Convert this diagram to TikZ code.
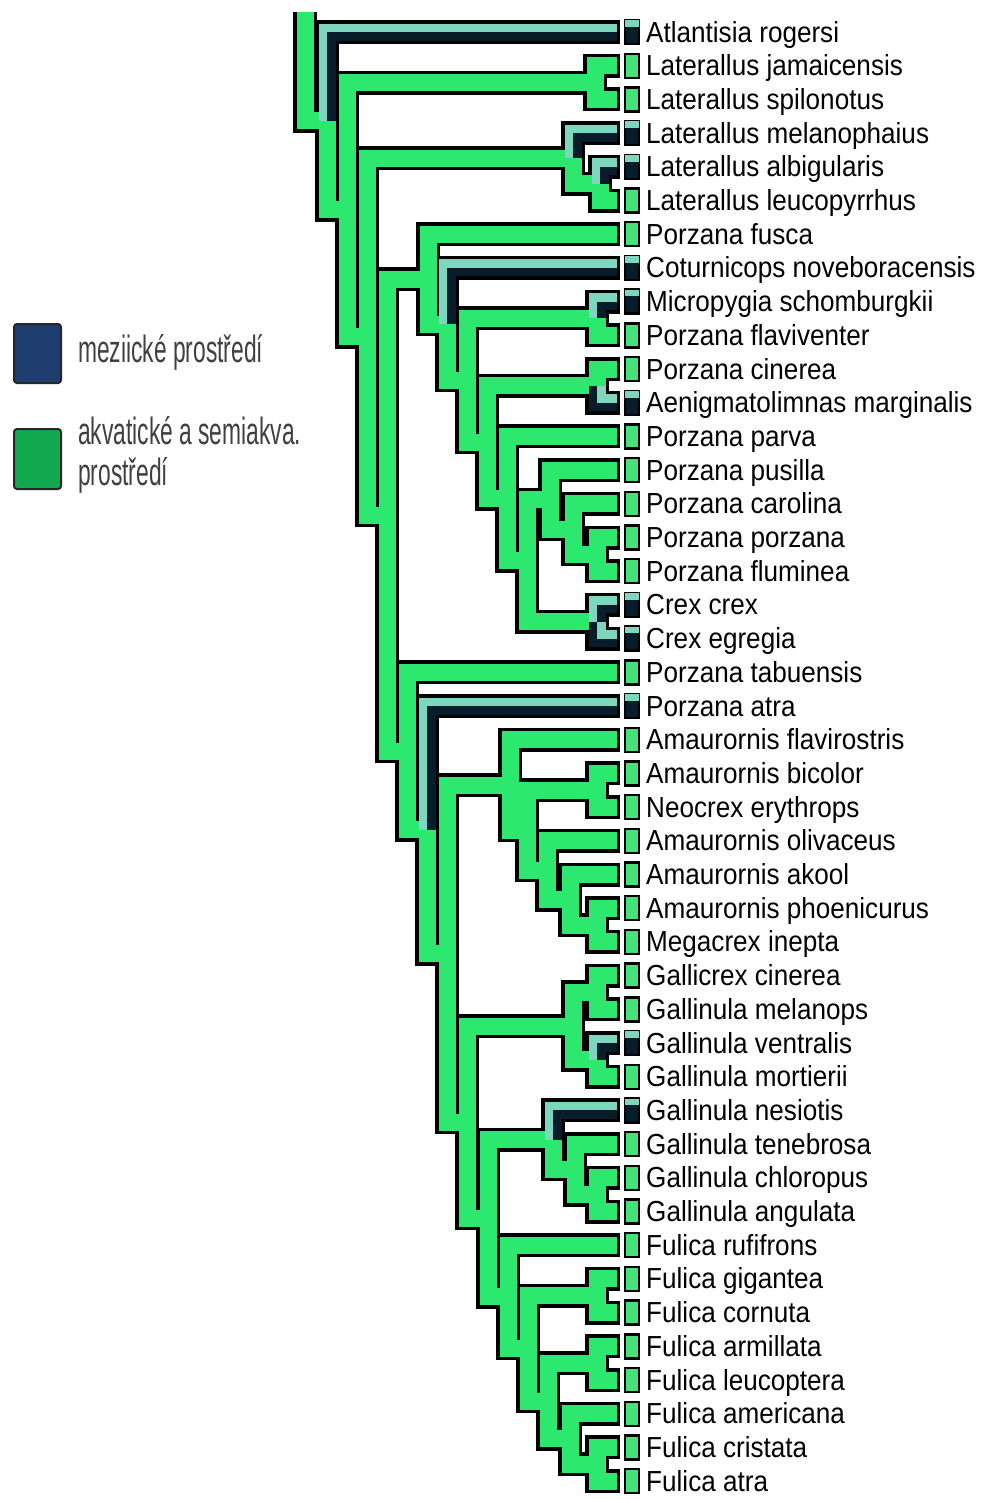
\documentclass[tikz,border=0pt]{standalone}
\usepackage{fontspec}
\setmainfont{Liberation Sans}
\newfontfamily\labfont[FakeStretch=0.9]{Liberation Sans}
\newfontfamily\legfont[FakeStretch=0.6]{Liberation Sans}
\usetikzlibrary{calc}
\definecolor{brgreen}{RGB}{45,232,110}
\definecolor{boxgreen}{RGB}{70,225,120}
\definecolor{tealc}{RGB}{125,215,190}
\definecolor{darkc}{RGB}{8,28,42}
\definecolor{legblue}{RGB}{30,62,112}
\definecolor{leggreen}{RGB}{18,170,80}
\tikzset{
  outl/.style={line width=24pt, black, line join=miter},
  fillg/.style={line width=17pt, brgreen, line join=miter},
  stripe/.style={line width=8.5pt, line join=miter},
  tipbox/.style={draw=black, line width=2.4pt, fill=boxgreen, minimum width=14pt, minimum height=24pt, inner sep=0pt},
  darkbox/.style={tipbox, fill=darkc},
  lab/.style={anchor=base west, inner sep=0pt, font=\labfont\fontsize{29}{29}\selectfont},
  legsq/.style={draw=black!85, line width=2pt, rounded corners=3pt, minimum width=47pt, inner sep=0pt},
  legtext/.style={anchor=base west, inner sep=0pt, text=black!75, font=\legfont\fontsize{38}{38}\selectfont}
}
\begin{document}
\begin{tikzpicture}[x=1pt,y=-1pt]
\useasboundingbox (0,0) rectangle (984,1499);
\fill[white] (0,0) rectangle (984,1499);
% tip coordinates
\foreach \i in {0,...,43}{
  \pgfmathsetmacro\yy{32+33.7*\i}
  \coordinate (t\i) at (617,\yy);
}
% internal nodes
\coordinate (rootstem) at (305,12);
\coordinate (root) at (327,120.8);
\coordinate (n1) at (347,209.65);
\coordinate (jamspil) at (595,82.55);
\coordinate (n2) at (367,336.75);
\coordinate (mel3) at (573,158.4);
\coordinate (albleu) at (600,183.65);
\coordinate (n3) at (387,515.1);
\coordinate (A) at (428,279.15);
\coordinate (restA) at (447,324.1);
\coordinate (restA2) at (467,380.3);
\coordinate (micflav) at (597,318.45);
\coordinate (restA3) at (487,442.2);
\coordinate (cinaen) at (597,385.85);
\coordinate (restA4) at (507,498.5);
\coordinate (restA5) at (527,560.67);
\coordinate (P) at (550,499.6);
\coordinate (Q) at (573,529.08);
\coordinate (R) at (597,554.35);
\coordinate (crex) at (597,621.75);
\coordinate (B) at (407,751.05);
\coordinate (C) at (427,829.8);
\coordinate (D) at (447,953.6);
\coordinate (E) at (510,785);
\coordinate (E2) at (527,830.3);
\coordinate (bicneo) at (597,790.25);
\coordinate (E3) at (547,870.3);
\coordinate (E4) at (570,899.8);
\coordinate (E5) at (597,925.05);
\coordinate (F) at (467,1122.25);
\coordinate (G1) at (573,1026.15);
\coordinate (gallmel) at (597,992.45);
\coordinate (ventmort) at (597,1059.85);
\coordinate (F2) at (488,1218.35);
\coordinate (G2) at (553,1139.9);
\coordinate (G3) at (575,1169.4);
\coordinate (chlang) at (597,1194.65);
\coordinate (H) at (508,1296.8);
\coordinate (H2) at (528,1348.4);
\coordinate (gigcorn) at (597,1295.75);
\coordinate (H3) at (548,1401.06);
\coordinate (armleu) at (597,1363.15);
\coordinate (H4) at (570,1438.98);
\coordinate (criatra) at (597,1464.25);
\def\greenbranches{t1/jamspil, t2/jamspil, jamspil/n1, n1/root, t5/albleu, albleu/mel3, mel3/n2, n2/n1, t6/A, A/n3, restA/A, t9/micflav, micflav/restA2, restA2/restA, t10/cinaen, cinaen/restA3, restA3/restA2, t12/restA4, restA4/restA3, restA5/restA4, t13/P, P/restA5, t14/Q, Q/P, t15/R, t16/R, R/Q, crex/restA5, n3/n2, B/n3, t19/B, C/B, D/C, E/D, t21/E, E2/E, bicneo/E2, t22/bicneo, t23/bicneo, E3/E2, t24/E3, E4/E3, t25/E4, E5/E4, t26/E5, t27/E5, F/D, G1/F, gallmel/G1, t28/gallmel, t29/gallmel, ventmort/G1, t31/ventmort, F2/F, G2/F2, G3/G2, t33/G3, chlang/G3, t34/chlang, t35/chlang, H/F2, t36/H, H2/H, gigcorn/H2, t37/gigcorn, t38/gigcorn, H3/H2, armleu/H3, t39/armleu, t40/armleu, H4/H3, t41/H4, criatra/H4, t42/criatra, t43/criatra, root/rootstem}
\def\downstriped{t0/root, t3/mel3, t4/albleu, t7/restA, t8/micflav, t17/crex, t20/C, t30/ventmort, t32/G2}
\def\upstriped{t11/cinaen, t18/crex}
% outline pass
\foreach \c/\p in \greenbranches {\draw[outl] ($(\c)+(2.5,0)$) -- (\c -| \p) -- (\p);}
\foreach \c/\p in \downstriped {\draw[outl] ($(\c)+(2.5,0)$) -- (\c -| \p) -- (\p);}
\foreach \c/\p in \upstriped {\draw[outl] ($(\c)+(2.5,0)$) -- (\c -| \p) -- (\p);}
% fill pass
\foreach \c/\p in \greenbranches {\draw[fillg] (\c) -- (\c -| \p) -- (\p);}
\foreach \c/\p in \downstriped {
  \draw[stripe, tealc] ($(\c)+(0,-4.25)$) -- ($(\c -| \p)+(-4.25,-4.25)$) -- ($(\p)+(-4.25,0)$);
  \draw[stripe, darkc] ($(\c)+(0,4.25)$) -- ($(\c -| \p)+(4.25,4.25)$) -- ($(\p)+(4.25,0)$);
}
\foreach \c/\p in \upstriped {
  \draw[stripe, tealc] ($(\c)+(0,-4.25)$) -- ($(\c -| \p)+(4.25,-4.25)$) -- ($(\p)+(4.25,0)$);
  \draw[stripe, darkc] ($(\c)+(0,4.25)$) -- ($(\c -| \p)+(-4.25,4.25)$) -- ($(\p)+(-4.25,0)$);
}
% tip boxes and labels
\foreach \i/\nm in {0/Atlantisia rogersi, 1/Laterallus jamaicensis, 2/Laterallus spilonotus, 3/Laterallus melanophaius, 4/Laterallus albigularis, 5/Laterallus leucopyrrhus, 6/Porzana fusca, 7/Coturnicops noveboracensis, 8/Micropygia schomburgkii, 9/Porzana flaviventer, 10/Porzana cinerea, 11/Aenigmatolimnas marginalis, 12/Porzana parva, 13/Porzana pusilla, 14/Porzana carolina, 15/Porzana porzana, 16/Porzana fluminea, 17/Crex crex, 18/Crex egregia, 19/Porzana tabuensis, 20/Porzana atra, 21/Amaurornis flavirostris, 22/Amaurornis bicolor, 23/Neocrex erythrops, 24/Amaurornis olivaceus, 25/Amaurornis akool, 26/Amaurornis phoenicurus, 27/Megacrex inepta, 28/Gallicrex cinerea, 29/Gallinula melanops, 30/Gallinula ventralis, 31/Gallinula mortierii, 32/Gallinula nesiotis, 33/Gallinula tenebrosa, 34/Gallinula chloropus, 35/Gallinula angulata, 36/Fulica rufifrons, 37/Fulica gigantea, 38/Fulica cornuta, 39/Fulica armillata, 40/Fulica leucoptera, 41/Fulica americana, 42/Fulica cristata, 43/Fulica atra}{
  \node[tipbox] (b\i) at ($(t\i)+(15,0)$) {};
  \node[lab] (l\i) at ($(t\i)+(29,10)$) {\nm};
}
\foreach \i in {0,3,4,7,8,11,17,18,20,30,32}{
  \node[darkbox] (d\i) at (b\i) {};
  \fill[tealc] ($(d\i.north west)+(1.5,1.5)$) rectangle ($(d\i.north east)+(-1.5,8)$);
}
% legend
\node[legsq, fill=legblue, minimum height=59pt] (legdark) at (37.5,353.5) {};
\node[legtext] (legt1) at (78,362) {meziické prostředí};
\node[legsq, fill=leggreen, minimum height=60pt] (leggrn) at (37.5,459) {};
\node[legtext] (legt2) at (78,444) {akvatické a semiakva.};
\node[legtext] (legt3) at (78,485) {prostředí};
\end{tikzpicture}
\end{document}
